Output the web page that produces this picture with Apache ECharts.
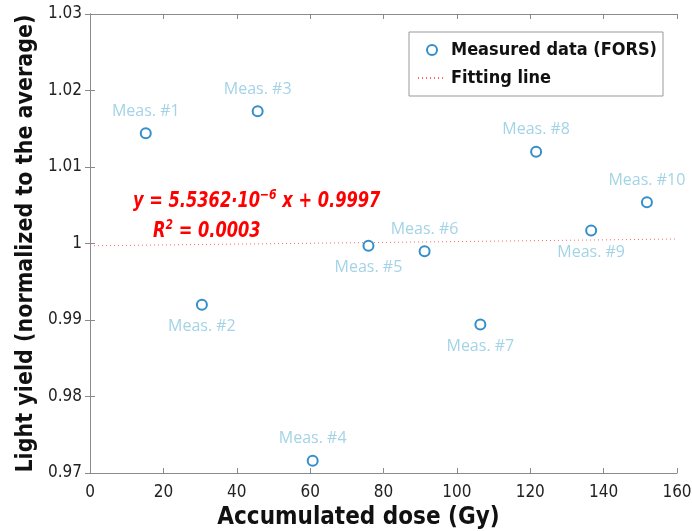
<!DOCTYPE html>
<html>
<head>
<meta charset="utf-8">
<script src="https://cdn.jsdelivr.net/npm/echarts@6/dist/echarts.min.js"></script>
<style>
  html, body { margin: 0; padding: 0; background: #fff; }
  #main { width: 692px; height: 531px; }
</style>
</head>
<body>
<div id="main"></div>
<script>
// measured points
var doses = [15.2, 30.5, 45.7, 60.7, 75.9, 91.2, 106.4, 121.6, 136.6, 151.8];
var yields = [1.0144, 0.9920, 1.0173, 0.9716, 0.9997, 0.9990, 0.9894, 1.0120, 1.0017, 1.0054];
var pointNames = ['Meas. #1', 'Meas. #2', 'Meas. #3', 'Meas. #4', 'Meas. #5',
                  'Meas. #6', 'Meas. #7', 'Meas. #8', 'Meas. #9', 'Meas. #10'];
// label above or below point
var labelSide = ['top', 'bottom', 'top', 'top', 'bottom', 'top', 'bottom', 'top', 'bottom', 'top'];
// fit line
var fitSlope = 5.5362e-6;
var fitIntercept = 0.9997;
var fitX = [0, 160];

var chart = echarts.init(document.getElementById('main'));

var pts = [];
for (var i = 0; i < doses.length; i++) {
  pts.push({
    name: pointNames[i],
    value: [doses[i], yields[i]],
    label: { position: labelSide[i] }
  });
}
var fitPts = fitX.map(function (x) { return [x, fitSlope * x + fitIntercept]; });

var narrow = '"DejaVu Sans Condensed", "Liberation Sans Narrow", Roboto, sans-serif';
var axisColor = '#8a8a8a';
var tickFont = { fontFamily: narrow, fontSize: 17, color: '#222' };
var eqStyle = {
  m: { fontFamily: narrow, fontStyle: 'italic', fontWeight: 'bold', fontSize: 21, fill: '#ff0000', verticalAlign: 'bottom' },
  s: { fontFamily: narrow, fontStyle: 'italic', fontWeight: 'bold', fontSize: 14, fill: '#ff0000', verticalAlign: 'top', padding: [0, 0, 10, 0] }
};

chart.setOption({
  animation: false,
  grid: { left: 90, right: 15, top: 14, bottom: 58, outerBoundsMode: 'none', containLabel: false },
  legend: {
    right: 29, top: 32,
    orient: 'vertical',
    itemGap: 10,
    padding: [9, 6, 9, 8],
    borderColor: '#999', borderWidth: 1,
    itemWidth: 28, itemHeight: 10,
    textStyle: { fontFamily: narrow, fontWeight: 'bold', fontSize: 18, color: '#111' },
    data: [
      { name: 'Measured data (FORS)', icon: 'emptyCircle' },
      { name: 'Fitting line', itemStyle: { opacity: 0 } }
    ]
  },
  xAxis: [{
    type: 'value', min: 0, max: 160, interval: 20,
    name: 'Accumulated dose (Gy)', nameLocation: 'middle', nameGap: 32,
    nameTextStyle: { fontFamily: narrow, fontWeight: 'bold', fontSize: 24, color: '#111', padding: [0, 50, 0, 0] },
    axisLine: { lineStyle: { color: axisColor } },
    axisTick: { inside: true, length: 5, lineStyle: { color: axisColor } },
    axisLabel: Object.assign({ margin: 11 }, tickFont),
    splitLine: { show: false }
  }, {
    type: 'value', min: 0, max: 160, interval: 20, position: 'top',
    axisLine: { show: true, lineStyle: { color: axisColor } },
    axisTick: { inside: true, length: 5, lineStyle: { color: axisColor } },
    axisLabel: { show: false },
    splitLine: { show: false }
  }],
  yAxis: [{
    type: 'value', min: 0.97, max: 1.03, interval: 0.01,
    name: 'Light yield (normalized to the average)', nameLocation: 'middle', nameGap: 47,
    nameTextStyle: { fontFamily: narrow, fontWeight: 'bold', fontSize: 23, color: '#111' },
    axisLine: { show: true, lineStyle: { color: axisColor } },
    axisTick: { show: true, inside: true, length: 5, lineStyle: { color: axisColor } },
    axisLabel: Object.assign({ formatter: function (v) { return (+v.toFixed(2)).toString(); } }, tickFont),
    splitLine: { show: false }
  }, {
    type: 'value', min: 0.97, max: 1.03, interval: 0.01, position: 'right',
    axisLine: { show: true, lineStyle: { color: axisColor } },
    axisTick: { show: true, inside: true, length: 5, lineStyle: { color: axisColor } },
    axisLabel: { show: false },
    splitLine: { show: false }
  }],
  series: [{
    name: 'Measured data (FORS)',
    type: 'scatter',
    symbol: 'emptyCircle',
    symbolSize: 10,
    itemStyle: { color: '#0072BD', borderColor: '#0072BD', borderWidth: 1.5 },
    label: {
      show: true,
      formatter: '{b}',
      distance: 8,
      fontFamily: 'Open Sans',
      fontSize: 16,
      color: '#8cc8e0'
    },
    data: pts,
    z: 3
  }, {
    name: 'Fitting line',
    type: 'line',
    symbol: 'none',
    lineStyle: { color: '#ff6666', type: [1, 3], width: 1 },
    itemStyle: { color: '#ff6666' },
    data: fitPts,
    z: 2
  }],
  graphic: [{
    type: 'text',
    x: 133, y: 188, scaleX: 0.86,
    style: { text: '{m|y = 5.5362·10}{s|−6}{m| x + 0.9997}', rich: eqStyle }
  }, {
    type: 'text',
    x: 153, y: 218, scaleX: 0.86,
    style: { text: '{m|R}{s|2}{m| = 0.0003}', rich: eqStyle }
  }]
});
</script>
</body>
</html>
